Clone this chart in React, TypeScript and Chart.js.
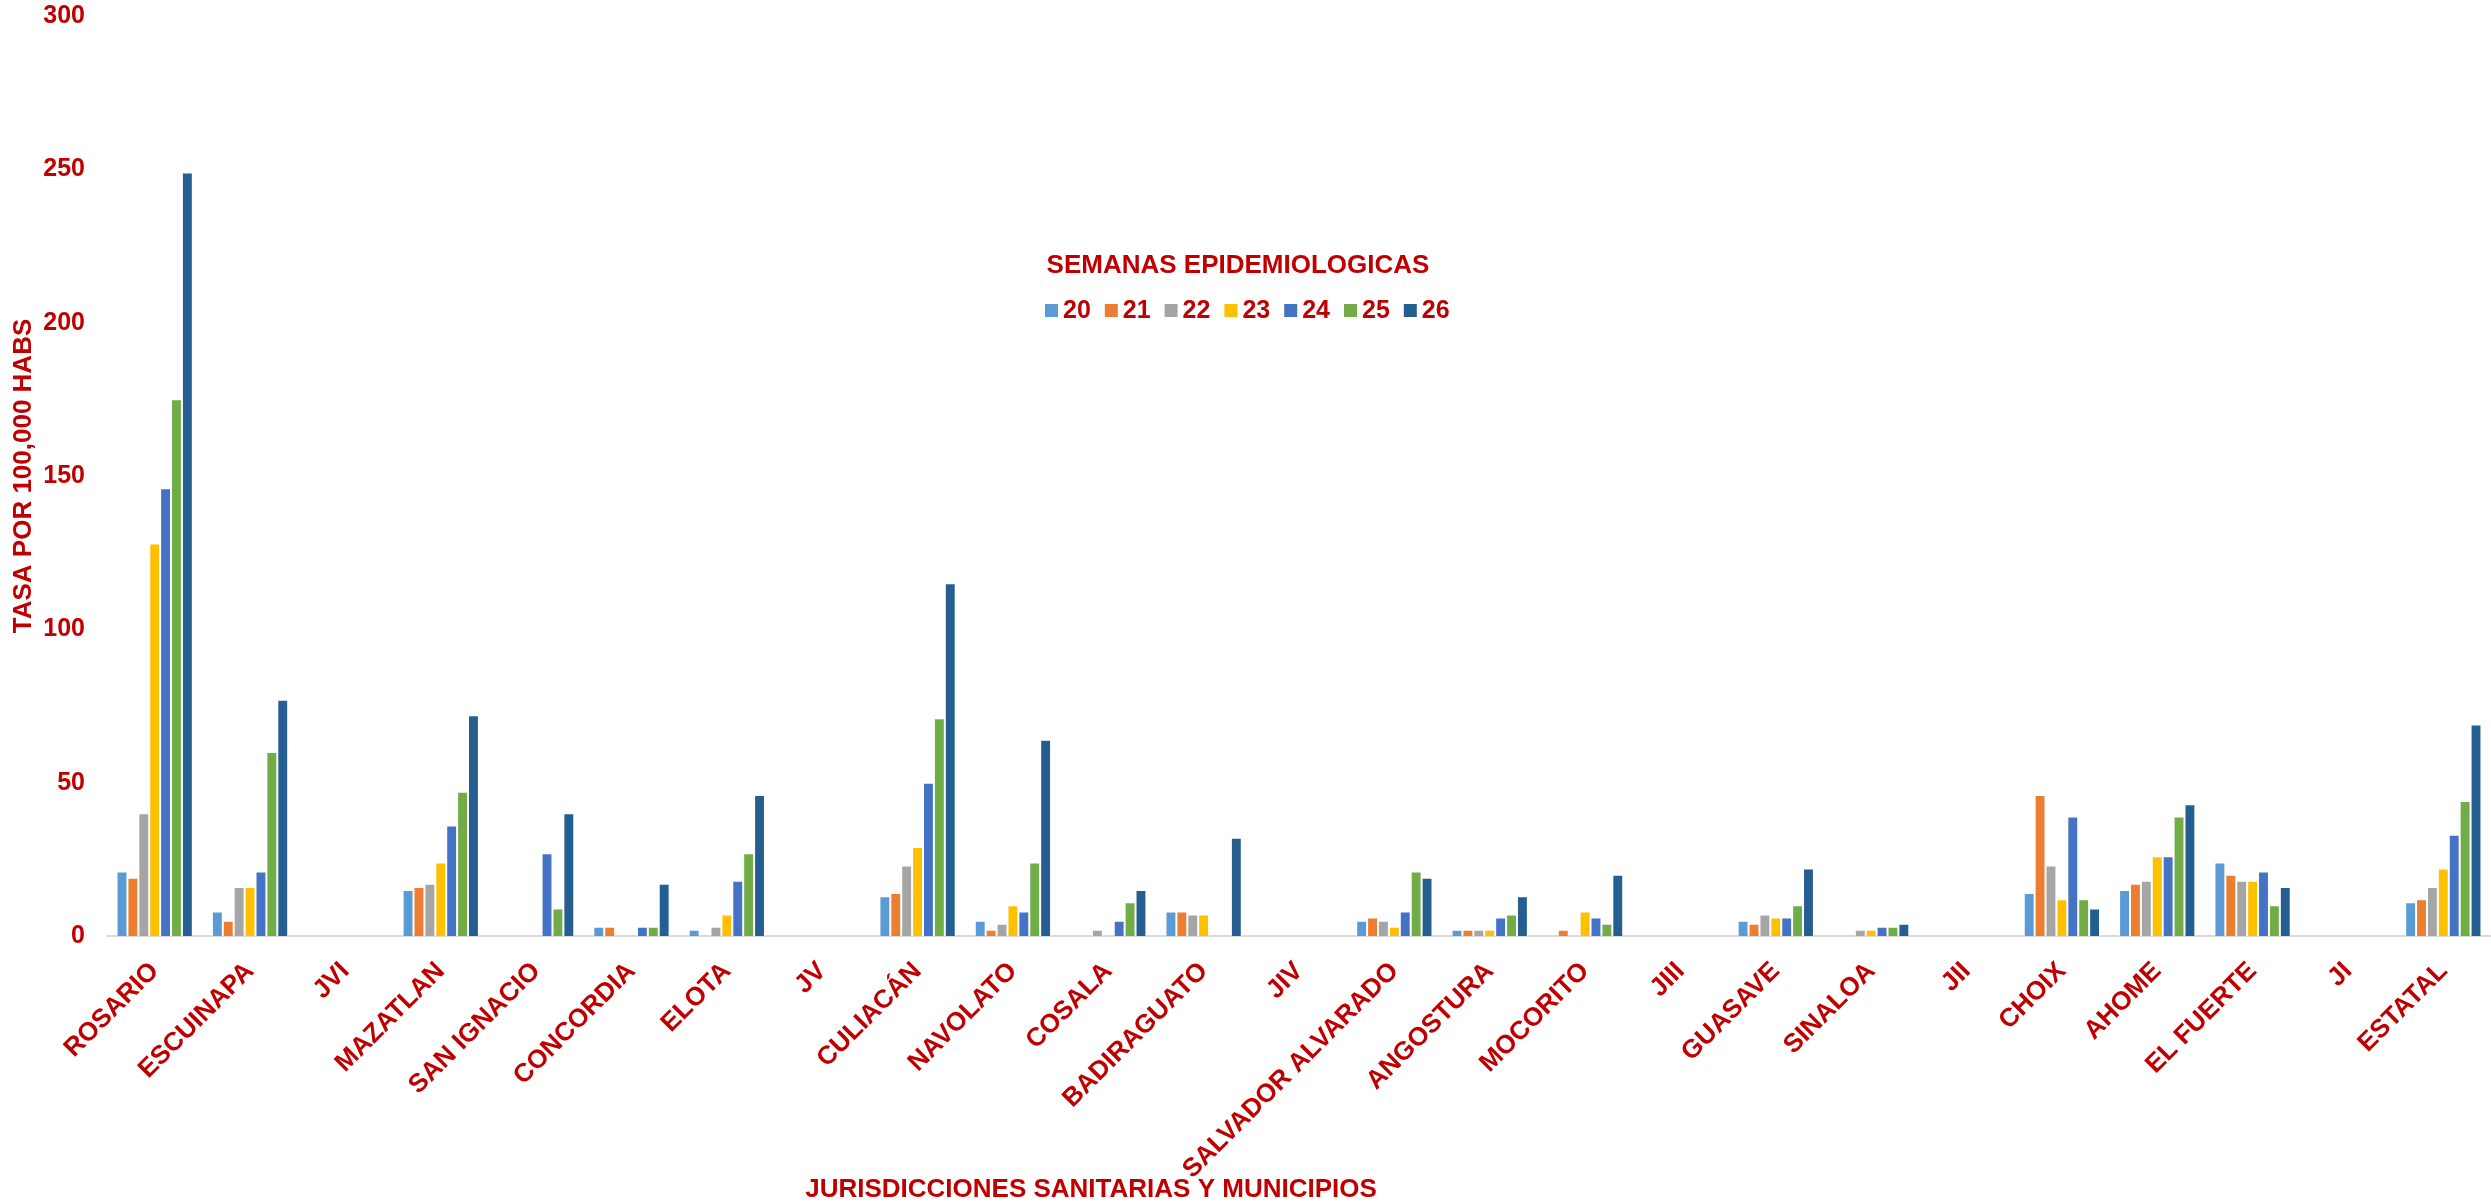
import React, { useEffect, useRef } from "react";
import { Chart, registerables } from "chart.js";

Chart.register(...registerables);

// ---------- DATA ----------
const categories = [
  "ROSARIO", "ESCUINAPA", "JVI", "MAZATLAN", "SAN IGNACIO", "CONCORDIA", "ELOTA", "JV",
  "CULIACÁN", "NAVOLATO", "COSALA", "BADIRAGUATO", "JIV", "SALVADOR ALVARADO", "ANGOSTURA",
  "MOCORITO", "JIII", "GUASAVE", "SINALOA", "JII", "CHOIX", "AHOME", "EL FUERTE", "JI", "ESTATAL",
];

const weekLabels = ["20", "21", "22", "23", "24", "25", "26"];

const week20 = [21, 8, 0, 15, 0, 3, 2, 0, 13, 5, 0, 8, 0, 5, 2, 0, 0, 5, 0, 0, 14, 15, 24, 0, 11];
const week21 = [19, 5, 0, 16, 0, 3, 0, 0, 14, 2, 0, 8, 0, 6, 2, 2, 0, 4, 0, 0, 46, 17, 20, 0, 12];
const week22 = [40, 16, 0, 17, 0, 0, 3, 0, 23, 4, 2, 7, 0, 5, 2, 0, 0, 7, 2, 0, 23, 18, 18, 0, 16];
const week23 = [128, 16, 0, 24, 0, 0, 7, 0, 29, 10, 0, 7, 0, 3, 2, 8, 0, 6, 2, 0, 12, 26, 18, 0, 22];
const week24 = [146, 21, 0, 36, 27, 3, 18, 0, 50, 8, 5, 0, 0, 8, 6, 6, 0, 6, 3, 0, 39, 26, 21, 0, 33];
const week25 = [175, 60, 0, 47, 9, 3, 27, 0, 71, 24, 11, 0, 0, 21, 7, 4, 0, 10, 3, 0, 12, 39, 10, 0, 44];
const week26 = [249, 77, 0, 72, 40, 17, 46, 0, 115, 64, 15, 32, 0, 19, 13, 20, 0, 22, 4, 0, 9, 43, 16, 0, 69];

const seriesValues = [week20, week21, week22, week23, week24, week25, week26];

const yTickValues = [0, 50, 100, 150, 200, 250, 300];

const legendTitle = "SEMANAS EPIDEMIOLOGICAS";
const xAxisTitle = "JURISDICCIONES SANITARIAS Y MUNICIPIOS";
const yAxisTitle = "TASA POR 100,000 HABS";

// ---------- STYLE ----------
const seriesColors = ["#5B9BD5", "#ED7D31", "#A5A5A5", "#FFC000", "#4472C4", "#70AD47", "#255E91"];
const RED = "#C00000";
const FONT = "'Liberation Sans', Arial, Helvetica, sans-serif";
const W = 2491;
const H = 1204;

const overlayPlugin = {
  id: "overlayTexts",
  afterDraw(chart: any) {
    const ctx = chart.ctx as CanvasRenderingContext2D;
    ctx.save();
    ctx.fillStyle = RED;
    // legend title
    ctx.font = `bold 26px ${FONT}`;
    ctx.textAlign = "center";
    ctx.textBaseline = "alphabetic";
    ctx.fillText(legendTitle, 1238, 273);
    // legend items
    const startX = 1045;
    const step = 59.8;
    ctx.font = `bold 25px ${FONT}`;
    ctx.textAlign = "left";
    chart.data.datasets.forEach((ds: any, i: number) => {
      const x = startX + i * step;
      ctx.fillStyle = ds.backgroundColor;
      ctx.fillRect(x, 304, 13, 13);
      ctx.fillStyle = RED;
      ctx.fillText(ds.label, x + 18, 318);
    });
    // x axis title
    ctx.font = `bold 26px ${FONT}`;
    ctx.textAlign = "center";
    ctx.fillText(xAxisTitle, 1091, 1197);
    ctx.restore();
  },
};

export default function App() {
  const canvasRef = useRef<HTMLCanvasElement | null>(null);

  useEffect(() => {
    if (!canvasRef.current) return;
    const chart = new Chart(canvasRef.current, {
      type: "bar",
      data: {
        labels: categories,
        datasets: seriesValues.map((vals, i) => ({
          label: weekLabels[i],
          data: vals,
          backgroundColor: seriesColors[i],
          borderColor: "rgba(255,255,255,0.85)",
          borderWidth: 1,
          barPercentage: 1.0,
          categoryPercentage: 0.8,
        })),
      },
      options: {
        animation: false,
        responsive: false,
        devicePixelRatio: 1,
        layout: { padding: { top: 16, left: 0, right: 0, bottom: 0 } },
        plugins: {
          legend: { display: false },
          tooltip: { enabled: false },
          title: { display: false },
        },
        scales: {
          x: {
            grid: { display: false, drawTicks: false },
            border: { display: true, color: "#D9D9D9", width: 2 },
            ticks: {
              color: RED,
              font: { family: FONT, size: 26, weight: "bold" },
              minRotation: 45,
              maxRotation: 45,
              autoSkip: false,
              padding: 20,
            },
            afterFit: (scale: any) => {
              scale.height = 268;
            },
          },
          y: {
            min: 0,
            max: 300,
            grid: { display: false, drawTicks: false },
            border: { display: false },
            afterBuildTicks: (scale: any) => {
              scale.ticks = yTickValues.map((v) => ({ value: v }));
            },
            ticks: {
              color: RED,
              font: { family: FONT, size: 25, weight: "bold" },
              padding: 22,
            },
            title: {
              display: true,
              text: yAxisTitle,
              color: RED,
              font: { family: FONT, size: 26, weight: "bold" },
              padding: { top: 8, bottom: 0 },
            },
            afterFit: (scale: any) => {
              scale.width = 107;
              scale.paddingTop = 0;
              scale.paddingBottom = 0;
            },
          },
        },
      },
      plugins: [overlayPlugin],
    });
    return () => chart.destroy();
  }, []);

  return (
    <div style={{ position: "fixed", left: 0, top: 0, width: W, height: H, background: "#fff" }}>
      <canvas ref={canvasRef} width={W} height={H} style={{ display: "block", width: W, height: H }} />
    </div>
  );
}
